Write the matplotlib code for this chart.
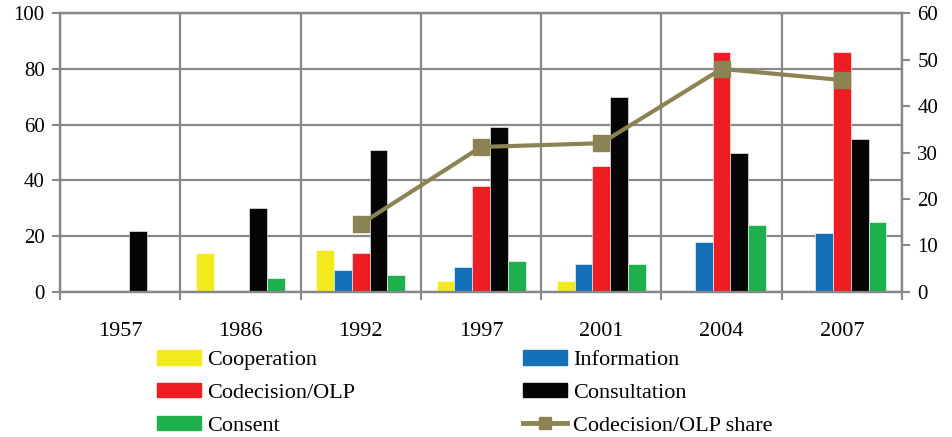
import numpy as np
import matplotlib.pyplot as plt
from matplotlib.patches import Patch
from matplotlib.lines import Line2D

plt.rcParams['font.family'] = ['Liberation Serif', 'DejaVu Serif']

years = ['1957', '1986', '1992', '1997', '2001', '2004', '2007']
cooperation = [0, 14, 15, 4, 4, 0, 0]
information = [0, 0, 8, 9, 10, 18, 21]
codecision = [0, 0, 14, 38, 45, 86, 86]
consultation = [22, 30, 51, 59, 70, 50, 55]
consent = [0, 5, 6, 11, 10, 24, 25]
share_years = ['1992', '1997', '2001', '2004', '2007']
share = [14.6, 31.2, 32.0, 48.0, 45.6]

series = [('Cooperation', cooperation, '#F2EA1D'),
          ('Information', information, '#1470B8'),
          ('Codecision/OLP', codecision, '#EE1D23'),
          ('Consultation', consultation, '#050505'),
          ('Consent', consent, '#1DB04D')]
line_col = '#8C8355'
grid_col = '#888888'

fig = plt.figure(figsize=(9.53, 4.37), dpi=100)
ax = fig.add_axes([0.063, 0.332, 0.8835, 0.638])

x = np.arange(len(years))
w = 0.148
for k, (name, vals, col) in enumerate(series):
    ax.bar(x + (k - 2) * w, vals, w, color=col, edgecolor='white', linewidth=0.4, zorder=3)

ax.set_xlim(-0.5, len(years) - 0.5)
ax.set_ylim(0, 100)
ax.set_yticks(np.arange(0, 101, 20))
ax.set_xticks(x)
ax.set_xticklabels(years)
ax.set_xticks(np.arange(-0.5, len(years), 1), minor=True)
ax.tick_params(axis='x', which='major', length=0, pad=22, labelsize=16)
ax.tick_params(axis='x', which='minor', length=6, width=1.5, color=grid_col, direction='out')
ax.tick_params(axis='y', length=6, width=1.5, color=grid_col, labelsize=15, pad=5)
ax.grid(True, which='minor', axis='x', color=grid_col, linewidth=1.6, zorder=0)
ax.grid(True, which='major', axis='y', color=grid_col, linewidth=1.6, zorder=0)
for s in ax.spines.values():
    s.set_color(grid_col)
    s.set_linewidth(1.6)

ax2 = ax.twinx()
xs = [years.index(y) for y in share_years]
ax2.plot(xs, share, color=line_col, linewidth=3, marker='s', markersize=11.5, zorder=4)
ax2.set_ylim(0, 60)
ax2.set_yticks(np.arange(0, 61, 10))
ax2.tick_params(axis='y', length=6, width=1.5, color=grid_col, labelsize=15, pad=5)
for s in ax2.spines.values():
    s.set_color(grid_col)
    s.set_linewidth(1.6)

# legend as two single-column blocks
leg_kw = dict(loc='upper left', frameon=False, fontsize=16, handlelength=1.95,
              handleheight=0.6, handletextpad=0.3, labelspacing=0.58,
              borderpad=0, borderaxespad=0)
h1 = [Patch(color=series[0][2]), Patch(color=series[2][2]), Patch(color=series[4][2])]
l1 = ['Cooperation', 'Codecision/OLP', 'Consent']
h2 = [Patch(color=series[1][2]), Patch(color=series[3][2]),
      Line2D([], [], color=line_col, linewidth=3.5, marker='s', markersize=9)]
l2 = ['Information', 'Consultation', 'Codecision/OLP share']
fig.legend(h1, l1, bbox_to_anchor=(0.165, 0.198), **leg_kw)
fig.legend(h2, l2, bbox_to_anchor=(0.549, 0.198), **leg_kw)

fig.savefig('out.png', dpi=100)
